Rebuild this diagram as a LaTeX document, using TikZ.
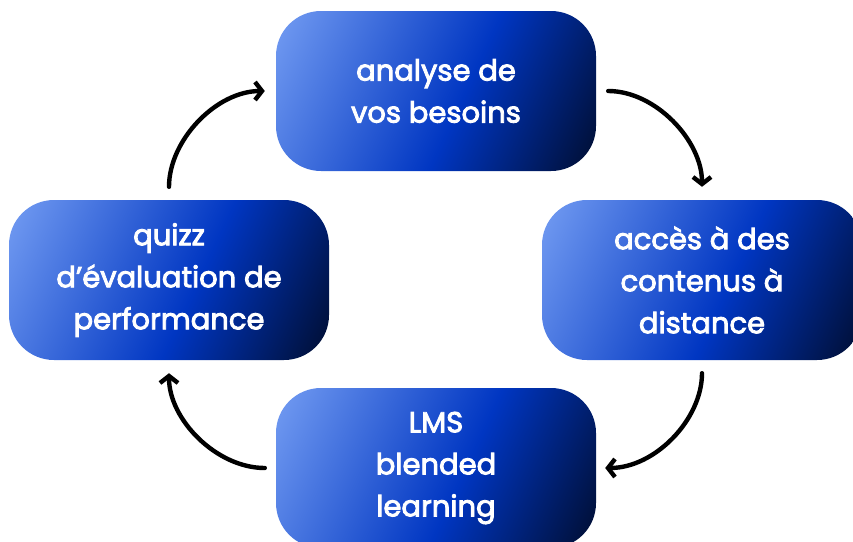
\documentclass[tikz,border=0pt]{standalone}
\usepackage{fontspec}
\newfontfamily\boxfont{Poppins}[FakeBold=3]
\usetikzlibrary{arrows.meta}
\definecolor{gA}{RGB}{124,164,246}
\definecolor{gB}{RGB}{0,54,194}
\definecolor{gC}{RGB}{0,6,22}
\pgfdeclarehorizontalshading{boxshade}{100bp}{color(0bp)=(gA); color(14bp)=(gA); color(55bp)=(gB); color(88bp)=(gC); color(100bp)=(gC)}
\tikzset{
  stepbox/.style={shading=boxshade, shading angle=-25, rounded corners=45pt,
    minimum width=320pt, minimum height=160pt, inner sep=0pt,
    text=white, align=center, font=\boxfont\fontsize{29pt}{42pt}\selectfont},
  cyc/.style={line width=4.4pt, line cap=round, -{Straight Barb[length=7pt,width=18pt,line width=4.4pt]}}
}
\begin{document}
\begin{tikzpicture}[x=1pt,y=-1pt]
\useasboundingbox (0,0) rectangle (853,541);
\clip (0,0) rectangle (853,541);
\node[stepbox] (top) at (436,91) {analyse de\\vos besoins};
\node[stepbox] (right) at (702,280) {accès à des\\contenus à\\distance};
\node[stepbox] (bot) at (436,468) {LMS\\blended\\learning};
\node[stepbox] (left) at (169,280) {quizz\\d’évaluation de\\performance};
\draw[cyc, shorten <=13pt, shorten >=11pt] (left.north) to[out=90,in=180] (top.west);
\draw[cyc, shorten <=12pt, shorten >=13pt] (top.east) to[out=0,in=90] (right.north);
\draw[cyc, shorten <=13pt, shorten >=9pt] (right.south) to[out=-90,in=0] (bot.east);
\draw[cyc, shorten <=11pt, shorten >=13pt] (bot.west) to[out=180,in=-90] (left.south);
\end{tikzpicture}
\end{document}
